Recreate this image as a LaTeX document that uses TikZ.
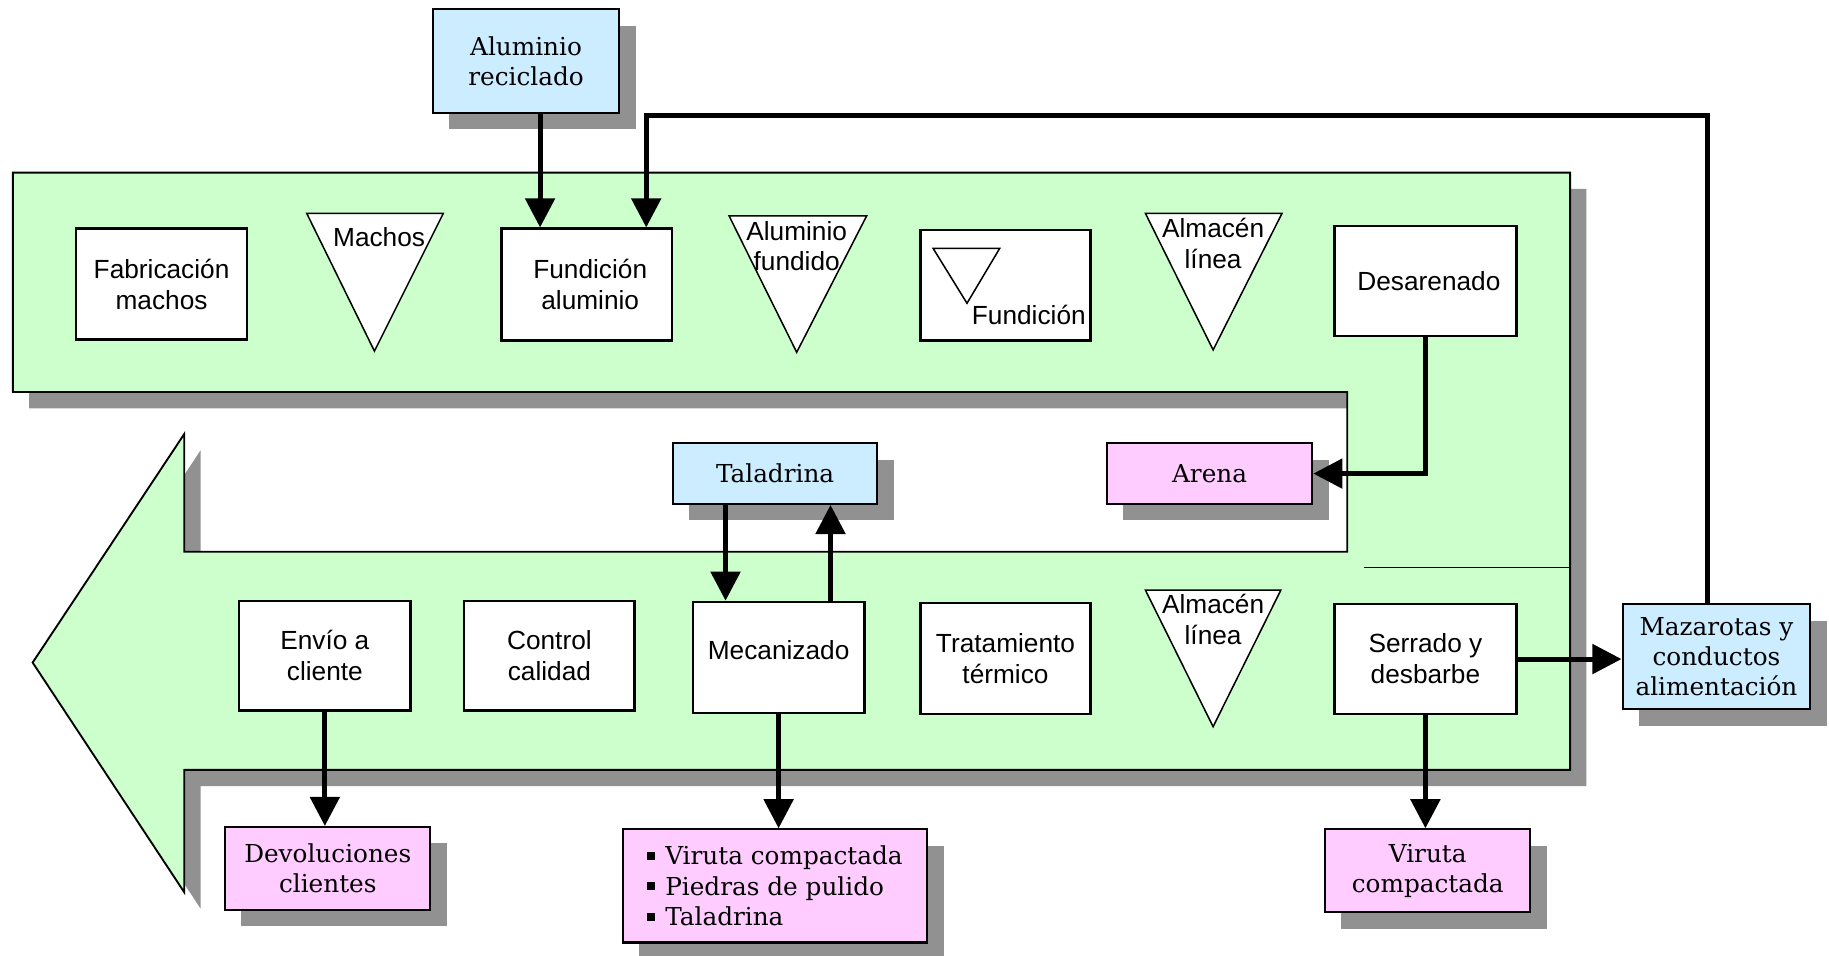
\documentclass[tikz,border=0pt]{standalone}
\usepackage{fontspec}
\setmainfont{DejaVu Serif}
\newfontfamily\lblfont{Liberation Sans}
\usetikzlibrary{shadows,arrows.meta}
\definecolor{bandgreen}{RGB}{204,255,204}
\definecolor{inblue}{RGB}{204,236,255}
\definecolor{outpink}{RGB}{255,204,255}
\definecolor{shade}{RGB}{145,145,145}
\begin{document}
\begin{tikzpicture}[x=1pt,y=-1pt,
  shadowed/.style={drop shadow={shadow xshift=14pt,shadow yshift=-14pt,fill=shade,opacity=1}},
  sanstext/.style={font=\lblfont\fontsize{22.5}{26.5}\selectfont},
  seriftext/.style={font=\fontsize{21.2}{26}\selectfont},
  stepbox/.style={sanstext,draw,line width=2pt,fill=white,minimum width=146pt,
    minimum height=94pt,inner sep=2pt,align=center},
  resbox/.style={seriftext,draw,line width=1.8pt,shadowed,align=center,inner sep=2pt},
  inbox/.style={resbox,fill=inblue},
  outbox/.style={resbox,fill=outpink},
  tri/.style={draw,fill=white,line width=1.3pt,line join=miter},
  trilabel/.style={sanstext,align=center,inner sep=0pt},
  flow/.style={line width=4.3pt,line join=miter,-{Triangle[width=25pt,length=25pt]}}
]
\useasboundingbox (0,0) rectangle (1568,819);

% process band: upper row, return column and the lower arrow
\filldraw[fill=bandgreen,draw=black,line width=1.6pt,line join=miter,shadowed]
  (11,148) -- (1346,148) -- (1346,660) -- (158,660) -- (158,765) -- (28,568)
  -- (158,372) -- (158,473) -- (1155,473) -- (1155,336) -- (11,336) -- cycle;
\draw[shade,line width=0.6pt] (1169,486) -- (1346,486);

% upper row
\node[stepbox,minimum width=147pt,minimum height=95pt] (fab) at (138.5,243.5) {Fabricación\\machos};
\draw[tri] (263,183) -- (380,183) -- (321,301) -- cycle;
\node[trilabel] (mach) at (325,203) {Machos};
\node[stepbox,minimum height=96pt] (fal) at (503,244) {\hspace*{6pt}Fundición\\\hspace*{6pt}aluminio};
\draw[tri] (625,185) -- (743,185) -- (683,302) -- cycle;
\node[trilabel] (afu) at (683,211) {Aluminio\\fundido};
\node[stepbox,minimum height=95pt] (fun) at (862,244.5) {};
\draw[tri] (800,213) -- (857,213) -- (829,260) -- cycle;
\node[trilabel] (funl) at (882,270) {Fundición};
\draw[tri] (982,183) -- (1099,183) -- (1040,300) -- cycle;
\node[trilabel] (alm1) at (1040,209) {Almacén\\línea};
\node[stepbox,minimum width=156pt] (des) at (1222,241) {\hspace*{6pt}Desarenado};

% lower row
\node[stepbox,minimum width=147pt] (env) at (278.5,562) {Envío a\\cliente};
\node[stepbox] (ctl) at (471,562) {Control\\calidad};
\node[stepbox,minimum width=147pt,minimum height=95pt,text depth=12pt] (mec) at (667.5,563.5) {Mecanizado};
\node[stepbox,minimum height=95pt] (tra) at (862,564.5) {Tratamiento\\térmico};
\draw[tri] (982,506) -- (1098,506) -- (1040,623) -- cycle;
\node[trilabel] (alm2) at (1040,531) {Almacén\\línea};
\node[stepbox,minimum width=156pt] (ser) at (1222,565) {Serrado y\\desbarbe};

% inputs
\node[inbox,minimum width=160pt,minimum height=89pt] (alr) at (451,52.5) {Aluminio\\reciclado};
\node[inbox,minimum width=175pt,minimum height=52pt] (tal) at (664.5,406) {Taladrina};
\node[inbox,minimum width=161pt,minimum height=90pt] (maz) at (1471.5,563) {Mazarotas y\\conductos\\alimentación};

% outputs
\node[outbox,minimum width=176pt,minimum height=52pt] (are) at (1037,406) {Arena};
\node[outbox,minimum width=176pt,minimum height=71pt] (dev) at (281,744.5) {Devoluciones\\clientes};
\node[outbox,minimum width=261pt,minimum height=97pt,align=left] (lst) at (664.5,759.5)
  {\rule[0.2em]{0.32em}{0.32em}\hspace{0.4em}Viruta compactada\\
   \rule[0.2em]{0.32em}{0.32em}\hspace{0.4em}Piedras de pulido\\
   \rule[0.2em]{0.32em}{0.32em}\hspace{0.4em}Taladrina};
\node[outbox,minimum width=176pt,minimum height=71pt] (vir) at (1224,746.5) {Viruta\\compactada};

% material flows
\coordinate (loop) at (554,99);
\draw[flow] ([xshift=12pt]alr.south) -- ([xshift=-40pt]fal.north);
\draw[flow] ([xshift=-7.5pt]maz.north) |- (loop) -- ([xshift=51pt]fal.north);
\draw[flow] (des.south) |- (are.east);
\draw[flow] (tal.south -| 622,0) -- (mec.north -| 622,0);
\draw[flow] (mec.north -| 712,0) -- (tal.south -| 712,0);
\draw[flow] (env.south) -- (env.south |- dev.north);
\draw[flow] (mec.south) -- (mec.south |- lst.north);
\draw[flow] (ser.south) -- (ser.south |- vir.north);
\draw[flow] (ser.east) -- (maz.west |- ser.east);
\end{tikzpicture}
\end{document}
